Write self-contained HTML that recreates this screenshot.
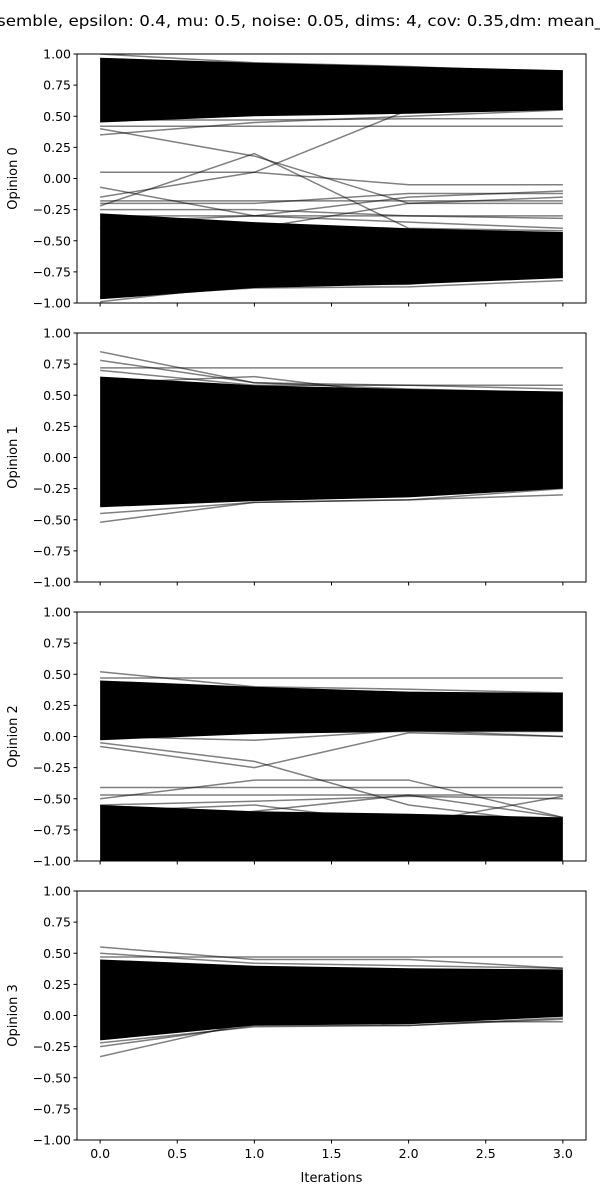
<!DOCTYPE html>
<html><head><meta charset="utf-8"><style>
html,body{margin:0;padding:0;background:#fff;}
svg{display:block;font-family:"DejaVu Sans","Liberation Sans",sans-serif;}
</style></head><body>
<svg id="chart" width="600" height="1200" viewBox="0 0 600 1200">
<text x="-3" y="26" font-size="15.5" textLength="606" lengthAdjust="spacingAndGlyphs">semble, epsilon: 0.4, mu: 0.5, noise: 0.05, dims: 4, cov: 0.35,dm: mean_</text>
</svg>
<script>
const iterations = [0, 1, 2, 3];
const xTicks = [0.0, 0.5, 1.0, 1.5, 2.0, 2.5, 3.0];
const yTicks = [-1.0, -0.75, -0.5, -0.25, 0.0, 0.25, 0.5, 0.75, 1.0];
const panelLabels = ["Opinion 0", "Opinion 1", "Opinion 2", "Opinion 3"];
// dense clusters: [lo, hi] per iteration
const bands0 = [[[0.45,0.97],[0.5,0.93],[0.52,0.9],[0.55,0.87]], [[-0.97,-0.28],[-0.88,-0.35],[-0.85,-0.4],[-0.8,-0.43]]];
const bands1 = [[[-0.4,0.65],[-0.35,0.58],[-0.32,0.55],[-0.25,0.53]]];
const bands2 = [[[-0.03,0.45],[0.02,0.4],[0.04,0.36],[0.04,0.35]], [[-1.0,-0.55],[-1.0,-0.6],[-1.0,-0.62],[-1.0,-0.65]]];
const bands3 = [[[-0.2,0.45],[-0.08,0.4],[-0.07,0.38],[-0.01,0.37]]];
// individual trajectories
const lines0 = [[1.0,0.93,0.9,0.85],[0.42,0.42,0.42,0.42],[0.47,0.47,0.48,0.48],[0.35,0.45,0.5,0.55],[0.05,0.05,-0.05,-0.05],[-0.22,0.2,-0.4,-0.42],[0.4,0.18,-0.2,-0.2],[-0.07,-0.3,-0.35,-0.4],[-0.15,0.05,0.55,0.6],[-0.2,-0.2,-0.12,-0.12],[-0.25,-0.25,-0.3,-0.3],[-0.18,-0.18,-0.18,-0.18],[-0.3,-0.3,-0.15,-0.1],[-0.95,-0.88,-0.87,-0.82],[-0.9,-0.85,-0.82,-0.78],[-0.6,-0.45,-0.48,-0.45],[-0.4,-0.4,-0.2,-0.15],[-0.35,-0.3,-0.3,-0.32],[-0.99,-0.85,-0.85,-0.75]];
const lines1 = [[0.85,0.6,0.55,0.52],[0.72,0.72,0.72,0.72],[-0.52,-0.36,-0.34,-0.3],[0.6,0.65,0.5,0.45],[0.78,0.6,0.58,0.55],[-0.45,-0.36,-0.34,-0.25],[0.7,0.58,0.58,0.58],[-0.38,-0.3,-0.3,-0.22]];
const lines2 = [[0.47,0.47,0.47,0.47],[0.52,0.4,0.38,0.35],[0.03,0.03,0.04,0.04],[-0.41,-0.41,-0.41,-0.41],[-0.05,-0.2,-0.55,-0.7],[-0.5,-0.35,-0.35,-0.65],[-0.75,-0.6,-0.47,-0.65],[0.0,-0.03,0.05,0.0],[-0.08,-0.25,0.03,0.0],[-0.47,-0.47,-0.47,-0.47],[-0.55,-0.52,-0.48,-0.5],[-0.6,-0.55,-0.7,-0.48]];
const lines3 = [[0.55,0.45,0.45,0.38],[0.47,0.47,0.47,0.47],[-0.33,-0.05,-0.05,-0.05],[-0.25,-0.08,-0.08,-0.03],[-0.22,-0.09,-0.08,-0.02],[0.5,0.42,0.4,0.38]];
const allBands = [bands0, bands1, bands2, bands3];
const allLines = [lines0, lines1, lines2, lines3];

const NS = "http://www.w3.org/2000/svg";
const svg = document.getElementById('chart');
const L = 77, R = 586, xMin = -0.15, xMax = 3.15;
const tops = [54, 333, 612, 891], H = 249;
function xs(v){ return L + (v - xMin) / (xMax - xMin) * (R - L); }
function mk(tag, attrs, parent){ const e = document.createElementNS(NS, tag); for (const k in attrs) e.setAttribute(k, attrs[k]); parent.appendChild(e); return e; }

allBands.forEach((bands, p) => {
  const top = tops[p];
  const ys = v => top + (1 - v) / 2 * H;
  const g = mk('g', {}, svg);
  
  
  const cid = 'clip' + p;
  const cp = mk('clipPath', {id: cid}, g);
  mk('rect', {x: L, y: top, width: R - L, height: H}, cp);
  const plot = mk('g', {'clip-path': 'url(#' + cid + ')'}, g);
  bands.forEach((b, bi) => {
    let pts = iterations.map((it, i) => xs(it) + ',' + ys(b[i][1]));
    pts = pts.concat(iterations.slice().reverse().map((it, j) => { const i = iterations.length - 1 - j; return xs(it) + ',' + ys(b[i][0]); }));
    const poly = mk('polygon', {points: pts.join(' '), fill: '#000'}, plot);
    
    
  });
  allLines[p].forEach((ln, li) => {
    const pl = mk('polyline', {points: iterations.map((it, i) => xs(it) + ',' + ys(ln[i])).join(' '), fill: 'none', stroke: '#000', 'stroke-opacity': 0.5, 'stroke-width': 1.5}, plot);
    
    
  });
  const frame = mk('rect', {x: L, y: top, width: R - L, height: H, fill: 'none', stroke: '#000', 'stroke-width': 1}, g);
  
  
  yTicks.forEach(t => {
    const y = ys(t);
    mk('line', {x1: L - 3.5, x2: L, y1: y, y2: y, stroke: '#000'}, g);
    const tx = mk('text', {x: L - 6, y: y + 4.5, 'font-size': 12.5, 'text-anchor': 'end'}, g);
    
    
    tx.textContent = (t < 0 ? '\u2212' : '') + Math.abs(t).toFixed(2);
  });
  xTicks.forEach(t => {
    const x = xs(t);
    mk('line', {x1: x, x2: x, y1: top + H, y2: top + H + 3.5, stroke: '#000'}, g);
    if (p === 3) {
      const tx = mk('text', {x: x, y: top + H + 18, 'font-size': 12.5, 'text-anchor': 'middle'}, g);
      
      
      tx.textContent = t.toFixed(1);
    }
  });
  const yl = mk('text', {x: 0, y: 0, 'font-size': 13, 'text-anchor': 'middle', transform: 'translate(17,' + (top + H / 2) + ') rotate(-90)'}, g);
  
  
  yl.textContent = panelLabels[p];
});
const xl = mk('text', {x: (L + R) / 2, y: 1182, 'font-size': 13, 'text-anchor': 'middle'}, svg);


xl.textContent = 'Iterations';
</script>
</body></html>
